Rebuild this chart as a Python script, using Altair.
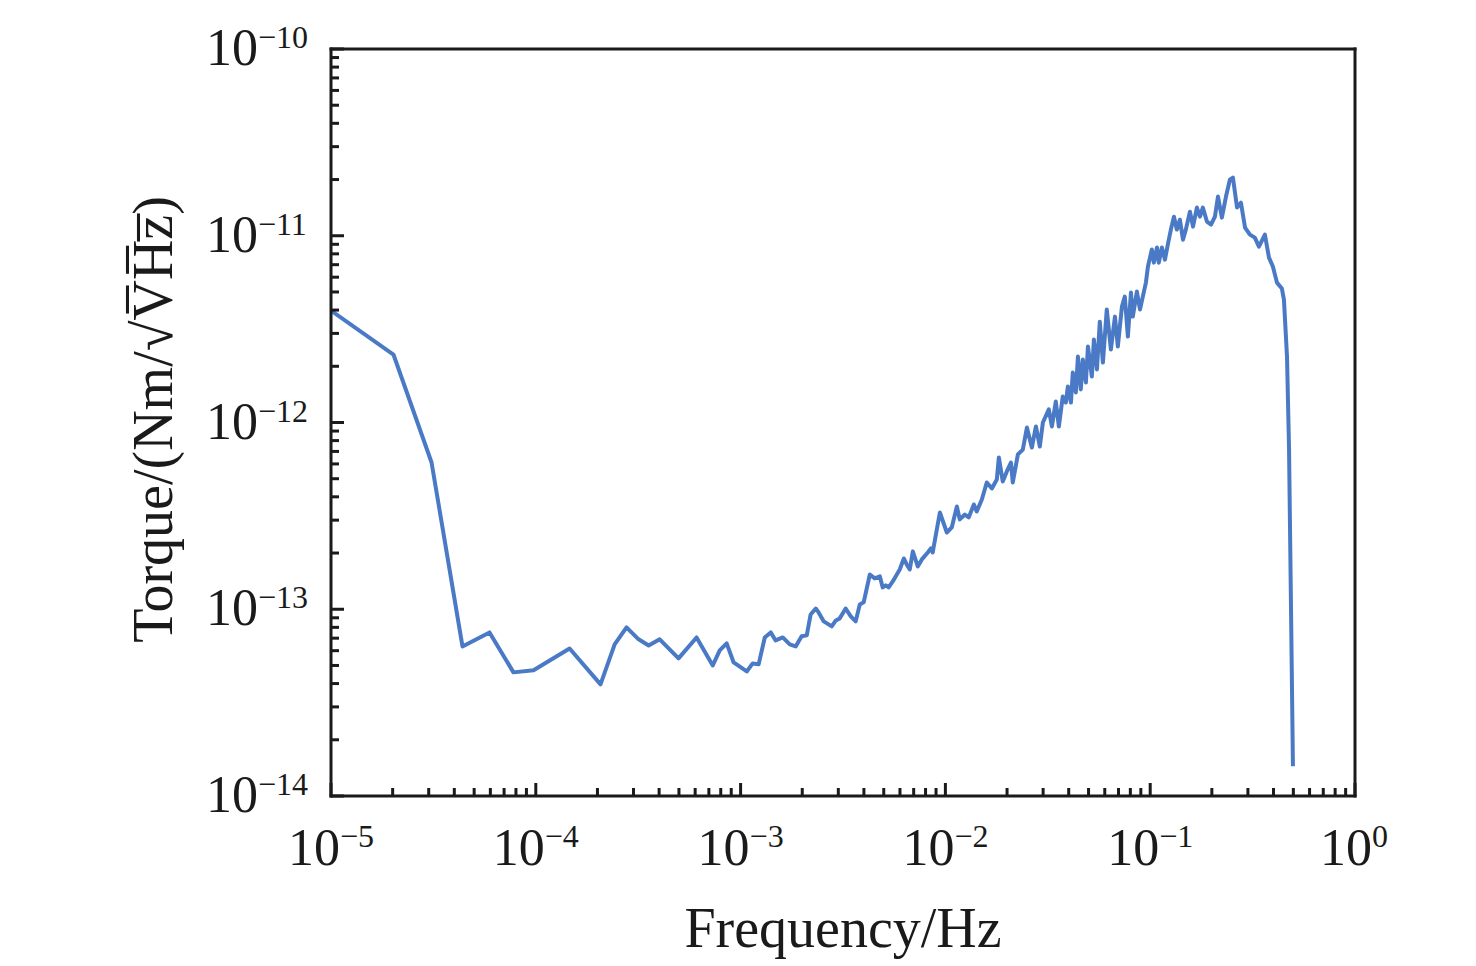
import altair as alt
import pandas as pd

# ---- data (log10 of frequency in Hz, log10 of torque) ----
log_freq = [
    -5.000, -4.695, -4.509, -4.358, -4.226, -4.109, -4.011, -3.835, -3.684, -3.615,
    -3.557, -3.498, -3.449, -3.395, -3.303, -3.215, -3.136, -3.102, -3.068, -3.034,
    -2.970, -2.941, -2.912, -2.882, -2.853, -2.829, -2.794, -2.760, -2.731, -2.702,
    -2.677, -2.658, -2.633, -2.619, -2.594, -2.555, -2.535, -2.516, -2.487, -2.462,
    -2.438, -2.418, -2.399, -2.369, -2.345, -2.320, -2.306, -2.291, -2.277, -2.257,
    -2.223, -2.203, -2.189, -2.174, -2.159, -2.135, -2.115, -2.086, -2.071, -2.062,
    -2.027, -1.993, -1.969, -1.944, -1.930, -1.905, -1.886, -1.861, -1.847, -1.822,
    -1.798, -1.773, -1.749, -1.739, -1.720, -1.700, -1.680, -1.671, -1.646, -1.622,
    -1.602, -1.578, -1.558, -1.539, -1.524, -1.495, -1.480, -1.461, -1.446, -1.427,
    -1.412, -1.402, -1.387, -1.378, -1.363, -1.353, -1.339, -1.329, -1.314, -1.304,
    -1.285, -1.275, -1.260, -1.246, -1.231, -1.212, -1.192, -1.172, -1.158, -1.138,
    -1.124, -1.109, -1.094, -1.085, -1.065, -1.050, -1.036, -1.021, -1.011, -0.992,
    -0.982, -0.967, -0.958, -0.943, -0.928, -0.914, -0.899, -0.884, -0.870, -0.855,
    -0.840, -0.826, -0.806, -0.791, -0.772, -0.757, -0.743, -0.723, -0.703, -0.684,
    -0.669, -0.650, -0.630, -0.611, -0.596, -0.576, -0.557, -0.537, -0.513, -0.489,
    -0.469, -0.440, -0.420, -0.401, -0.381, -0.357, -0.347, -0.332, -0.322, -0.313,
    -0.303,
]
log_torque = [
    -11.401, -11.636, -12.214, -13.199, -13.124, -13.338, -13.327, -13.210, -13.402, -13.188,
    -13.097, -13.161, -13.194, -13.161, -13.263, -13.151, -13.301, -13.220, -13.183, -13.285,
    -13.333, -13.290, -13.295, -13.151, -13.124, -13.167, -13.151, -13.188, -13.199, -13.145,
    -13.140, -13.028, -12.996, -13.017, -13.065, -13.092, -13.060, -13.049, -12.996, -13.038,
    -13.065, -12.974, -12.963, -12.814, -12.835, -12.824, -12.883, -12.872, -12.883, -12.851,
    -12.787, -12.728, -12.760, -12.787, -12.690, -12.771, -12.733, -12.696, -12.674, -12.696,
    -12.482, -12.589, -12.562, -12.450, -12.519, -12.493, -12.508, -12.439, -12.476, -12.412,
    -12.321, -12.353, -12.305, -12.187, -12.316, -12.262, -12.214, -12.321, -12.171, -12.145,
    -12.027, -12.134, -12.021, -12.129, -12.000, -11.930, -12.021, -11.888, -12.021, -11.861,
    -11.893, -11.807, -11.893, -11.732, -11.839, -11.647, -11.823, -11.663, -11.786, -11.593,
    -11.754, -11.556, -11.716, -11.460, -11.679, -11.395, -11.609, -11.433, -11.593, -11.379,
    -11.326, -11.540, -11.304, -11.433, -11.299, -11.395, -11.326, -11.251, -11.165, -11.074,
    -11.144, -11.063, -11.144, -11.063, -11.128, -11.047, -10.967, -10.898, -10.967, -10.914,
    -11.021, -10.967, -10.871, -10.951, -10.849, -10.898, -10.849, -10.924, -10.940, -10.898,
    -10.790, -10.903, -10.790, -10.700, -10.689, -10.849, -10.823, -10.956, -10.994, -11.010,
    -11.058, -10.994, -11.117, -11.165, -11.251, -11.283, -11.342, -11.647, -12.145, -12.947,
    -13.841,
]

# axis decades and minor multipliers
x_decades = [-5, -4, -3, -2, -1, 0]
y_decades = [-14, -13, -12, -11, -10]
minor_mult = [2, 3, 4, 5, 6, 7, 8, 9]

x_title = "Frequency/Hz"
y_title = "Torque/(Nm/\u221aV\u0305H\u0305z\u0305)"

FONT = "Liberation Serif"
LINE_COLOR = "#4a7ac6"
W, H = 1024, 747

curve = pd.DataFrame({
    "i": range(len(log_freq)),
    "f": [10 ** v for v in log_freq],
    "T": [10 ** v for v in log_torque],
})

xs = alt.Scale(type="log", domain=[1e-5, 1], nice=False)
ys = alt.Scale(type="log", domain=[1e-14, 1e-10], nice=False)


def sup(e):
    return ("\u2212" + str(-e)) if e < 0 else str(e)


x_major = pd.DataFrame({"v": [10.0 ** d for d in x_decades], "e": [sup(d) for d in x_decades],
                        "zero": [d == 0 for d in x_decades]})
x_minor = pd.DataFrame({"v": [m * 10.0 ** d for d in x_decades[:-1] for m in minor_mult]})
y_major = pd.DataFrame({"v": [10.0 ** d for d in y_decades], "e": [sup(d) for d in y_decades]})
y_minor = pd.DataFrame({"v": [m * 10.0 ** d for d in y_decades[:-1] for m in minor_mult]})

line = alt.Chart(curve).mark_line(color=LINE_COLOR, strokeWidth=4, clip=True,
                                  strokeJoin="round").encode(
    x=alt.X("f:Q", scale=xs, axis=None),
    y=alt.Y("T:Q", scale=ys, axis=None),
    order="i:Q",
)

# frame: bottom/left/top/right lines drawn from the scale domain ends
frame_df = pd.DataFrame({"x1": [1e-5, 1e-5, 1e-5, 1.0], "x2": [1.0, 1e-5, 1.0, 1.0],
                         "y1": [1e-14, 1e-14, 1e-10, 1e-14], "y2": [1e-14, 1e-10, 1e-10, 1e-10]})
frame = alt.Chart(frame_df).mark_rule(color="#1a1a1a", strokeWidth=3, strokeCap="square").encode(
    x=alt.X("x1:Q", scale=xs, axis=None), x2="x2:Q",
    y=alt.Y("y1:Q", scale=ys, axis=None), y2="y2:Q",
)

tick_style = dict(color="#1a1a1a", strokeWidth=3)
xmaj_t = alt.Chart(x_major).mark_rule(**tick_style).encode(
    x=alt.X("v:Q", scale=xs, axis=None), y=alt.value(H), y2=alt.value(H - 13))
xmin_t = alt.Chart(x_minor).mark_rule(**tick_style).encode(
    x=alt.X("v:Q", scale=xs, axis=None), y=alt.value(H), y2=alt.value(H - 8))
ymaj_t = alt.Chart(y_major).mark_rule(**tick_style).encode(
    y=alt.Y("v:Q", scale=ys, axis=None), x=alt.value(0), x2=alt.value(13))
ymin_t = alt.Chart(y_minor).mark_rule(**tick_style).encode(
    y=alt.Y("v:Q", scale=ys, axis=None), x=alt.value(0), x2=alt.value(8))

BIG, SMALL = 52, 32
TXT = "#1a1a1a"

def xlab(data_filter, dx):
    base = alt.Chart(x_major).transform_filter(data_filter)
    ten = base.mark_text(font=FONT, fontSize=BIG, align="right", baseline="alphabetic",
                         dx=dx, color=TXT).encode(
        x=alt.X("v:Q", scale=xs, axis=None), y=alt.value(816), text=alt.value("10"))
    ex = base.mark_text(font=FONT, fontSize=SMALL, align="left", baseline="alphabetic",
                        dx=dx, color=TXT).encode(
        x=alt.X("v:Q", scale=xs, axis=None), y=alt.value(798), text="e:N")
    return ten + ex

xl_neg = xlab("!datum.zero", 9)
xl_zero = xlab("datum.zero", 17)

yl_ten = alt.Chart(y_major).mark_text(font=FONT, fontSize=BIG, align="right",
                                      baseline="alphabetic", dy=16, color=TXT).encode(
    y=alt.Y("v:Q", scale=ys, axis=None), x=alt.value(-73), text=alt.value("10"))
yl_ex = alt.Chart(y_major).mark_text(font=FONT, fontSize=SMALL, align="left",
                                     baseline="alphabetic", dy=-1, color=TXT).encode(
    y=alt.Y("v:Q", scale=ys, axis=None), x=alt.value(-73), text="e:N")

xt = alt.Chart(pd.DataFrame({"t": [x_title]})).mark_text(
    font=FONT, fontSize=56, align="center", baseline="alphabetic", color=TXT).encode(
    x=alt.value(W / 2), y=alt.value(898), text="t:N")
yt = alt.Chart(pd.DataFrame({"t": [y_title]})).mark_text(
    font=FONT, fontSize=56, align="center", baseline="alphabetic", angle=270, color=TXT).encode(
    x=alt.value(-159), y=alt.value(H / 2 - 3), text="t:N")

chart = alt.layer(
    line, frame, xmaj_t, xmin_t, ymaj_t, ymin_t, xl_neg, xl_zero, yl_ten, yl_ex, xt, yt
).properties(
    width=W, height=H,
    autosize=alt.AutoSizeParams(type="none"),
    padding={"left": 323, "top": 41, "right": 100, "bottom": 166},
).configure(
    background="white"
).configure_view(
    strokeWidth=0
)

chart.save("out.html", embed_options={"renderer": "svg", "actions": False})
